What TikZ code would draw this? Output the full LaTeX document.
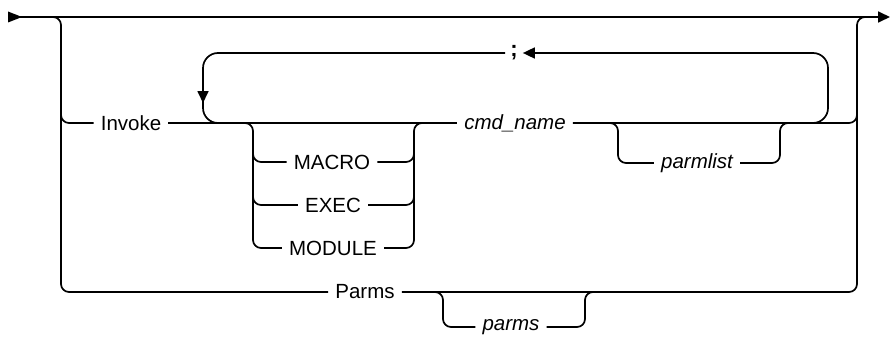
\documentclass[tikz,border=0pt]{standalone}
\usepackage{fontspec}
\setmainfont{Liberation Sans}
\usetikzlibrary{arrows.meta}
\begin{document}
\begin{tikzpicture}[x=1pt,y=-1pt,
  rail/.style={line width=1.7pt,line join=round},
  rr/.style={rail,rounded corners=8pt},
  loop/.style={rail,rounded corners=15pt},
  kw/.style={inner xsep=7pt,inner ysep=2pt,font=\fontsize{20.5}{23}\selectfont},
  var/.style={kw,font=\fontsize{20.5}{23}\selectfont\itshape},
  tip/.style={-{Triangle[length=12pt,width=11pt]}}]
\useasboundingbox (0,0) rectangle (890,337);
% nodes
\node[kw]  (invoke) at (131,123) {Invoke};
\node[var] (cmd)    at (515,123) {cmd\_name};
\node[kw]  (macro)  at (332,162) {MACRO};
\node[kw]  (exec)   at (333,205) {EXEC};
\node[kw]  (module) at (333,248) {MODULE};
\node[var] (plist)  at (697,163) {parmlist};
\node[kw]  (parms)  at (365,292) {Parms};
\node[var] (pvar)   at (511,327) {parms};
\node[kw,inner xsep=5pt,font=\fontsize{22}{24}\selectfont\bfseries] (semi) at (514,53) {;};
% junction coordinates
\coordinate (start) at (8,17);
\coordinate (end)   at (890,17);
% main line
\fill (8,11.5) -- (22,17) -- (8,22.5) -- cycle;
\draw[rail,tip] (start) -- (end);
% left branch
\draw[rr] (45,17) -| (61,292) -- (parms.west);
\draw[rr] (61,100) |- (invoke.west);
% right branch
\draw[rr] (parms.east) -| (857,17) -- (870,17);
\draw[rr] (cmd.east) -| (857,100);
% invoke row
\draw[rail] (invoke.east) -- (cmd.west);
% MACRO / EXEC / MODULE group
\draw[rr] (235,123) -| (253,248) -- (module.west);
\draw[rr] (253,140) |- (macro.west);
\draw[rr] (253,185) |- (exec.west);
\draw[rr] (module.east) -| (414,123) -- (430,123);
\draw[rr] (macro.east) -| (414,140);
\draw[rr] (exec.east) -| (414,185);
% parmlist group
\draw[rr] (605,123) -| (618,163) -- (plist.west);
\draw[rr] (plist.east) -| (780,123) -- (795,123);
% repeat loop
\draw[loop,tip] (800,123) -| (828,53) -- (semi.east);
\draw[loop,tip] (semi.west) -| (203,103);
\draw[loop] (203,95) |- (235,123);
% parms group
\draw[rr] (435,292) -| (443,327) -- (pvar.west);
\draw[rr] (pvar.east) -| (585,292) -- (600,292);
\end{tikzpicture}
\end{document}
